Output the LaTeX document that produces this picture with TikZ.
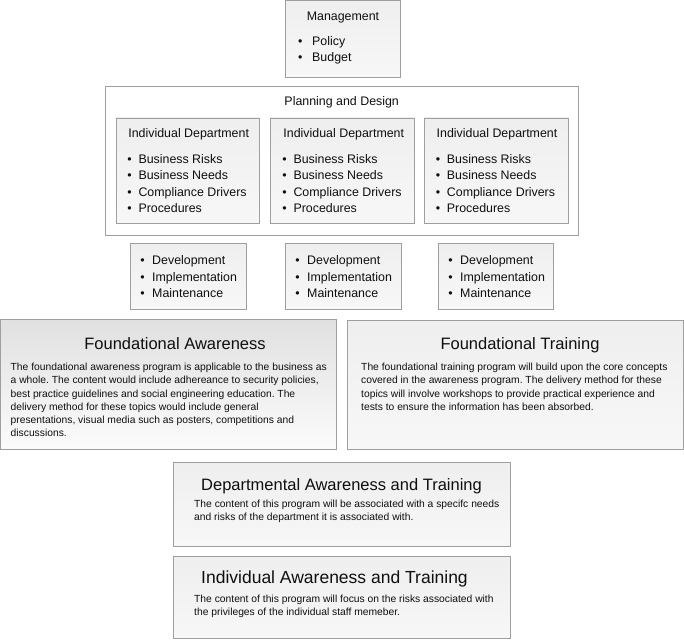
\documentclass[tikz,border=0pt]{standalone}
\usepackage{fontspec}
\setmainfont{Liberation Sans}
\frenchspacing
\begin{document}
\begin{tikzpicture}[x=1pt,y=-1pt,
  panel/.style={draw=gray!75, line width=0.8pt, inner sep=0pt, top color=gray!13, bottom color=gray!6},
  fadepanel/.style={draw=gray!75, line width=0.8pt, inner sep=0pt, top color=gray!24, bottom color=gray!3},
  plainpanel/.style={draw=gray!75, line width=0.8pt, inner sep=0pt, fill=white},
  txt/.style={text=black!94, inner sep=0pt},
  lbl/.style={txt, anchor=base, font=\fontsize{12.4}{15}\selectfont},
  item/.style={txt, anchor=base west, font=\fontsize{12.4}{15}\selectfont,
     execute at begin node={\llap{\textbullet\hspace{#1}}}},
  head/.style={txt, anchor=base, font=\fontsize{16.5}{19}\selectfont},
  bodyline/.style={txt, anchor=base west, font=\fontsize{10.3}{13}\selectfont}
]
\useasboundingbox (0,0) rectangle (684,639);

% boxes
\node[panel, minimum width=115pt, minimum height=76.5pt] (mgmt) at (342.5,38.75) {};
\node[plainpanel, minimum width=473pt, minimum height=149pt] (plan) at (341.5,160.5) {};
\node[panel, minimum width=143pt, minimum height=105.5pt] (dept1) at (187.5,170.75) {};
\node[panel, minimum width=144pt, minimum height=105.5pt] (dept2) at (342,170.75) {};
\node[panel, minimum width=144pt, minimum height=105.5pt] (dept3) at (496,170.75) {};
\node[panel, minimum width=116pt, minimum height=66pt] (dev1) at (188,276) {};
\node[panel, minimum width=116pt, minimum height=66pt] (dev2) at (343,276) {};
\node[panel, minimum width=115pt, minimum height=66pt] (dev3) at (495.5,276) {};
\node[fadepanel, minimum width=335.5pt, minimum height=129.5pt] (fa) at (168.25,384.25) {};
\node[panel, minimum width=336.5pt, minimum height=129.5pt] (ft) at (515.25,384.75) {};
\node[panel, minimum width=337pt, minimum height=84pt] (dat) at (341.5,504) {};
\node[panel, minimum width=337pt, minimum height=82.5pt] (iat) at (341.5,597.25) {};

% management
\node[lbl] (mgmtT) at (343,20.5) {Management};
\node[item=9.8pt] (mgmt1) at (312,45.5) {Policy};
\node[item=9.8pt] (mgmt2) at (312,61.8) {Budget};

% planning
\node[lbl] (planT) at (341.7,105.2) {Planning and Design};
\foreach \cx/\n in {188.7/1, 343.8/2, 497/3}
  \node[lbl] (deptT\n) at (\cx,137.8) {Individual Department};
\foreach \dx/\n in {138.3/1, 293.3/2, 446.7/3} {
  \foreach \t [count=\i] in {Business Risks, Business Needs, Compliance Drivers, Procedures}
    \node[item=6.8pt] (dept\n l\i) at (\dx,{163+16.6*(\i-1)}) {\t};
}

% development
\foreach \dx/\n in {152/1, 307/2, 460/3} {
  \foreach \t [count=\i] in {Development, Implementation, Maintenance}
    \node[item=7.5pt] (dev\n l\i) at (\dx,{264.5+16.6*(\i-1)}) {\t};
}

% foundational awareness
\node[head] (faT) at (175,349.2) {Foundational Awareness};
\foreach \t [count=\i] in {
  {The foundational awareness program is applicable to the business as},
  {a whole. The content would include adhereance to security policies,},
  {best practice guidelines and social engineering education. The},
  {delivery method for these topics would include general},
  {presentations, visual media such as posters, competitions and},
  {discussions.}}
  \node[bodyline] (fal\i) at (10.5,{370.4+13.3*(\i-1)}) {\t};

% foundational training
\node[head] (ftT) at (520,349.2) {Foundational Training};
\foreach \t [count=\i] in {
  {The foundational training program will build upon the core concepts},
  {covered in the awareness program. The delivery method for these},
  {topics will involve workshops to provide practical experience and},
  {tests to ensure the information has been absorbed.}}
  \node[bodyline] (ftl\i) at (361,{370.4+13.3*(\i-1)}) {\t};

% departmental
\node[head, anchor=base west] (datT) at (201,490) {Departmental Awareness and Training};
\foreach \t [count=\i] in {
  {The content of this program will be associated with a specifc needs},
  {and risks of the department it is associated with.}}
  \node[bodyline] (datl\i) at (194,{507+13.3*(\i-1)}) {\t};

% individual
\node[head, anchor=base west, font=\fontsize{17.5}{20}\selectfont] (iatT) at (201,583.6) {Individual Awareness and Training};
\foreach \t [count=\i] in {
  {The content of this program will focus on the risks associated with},
  {the privileges of the individual staff memeber.}}
  \node[bodyline] (iatl\i) at (194,{602+13.3*(\i-1)}) {\t};
\end{tikzpicture}
\end{document}
